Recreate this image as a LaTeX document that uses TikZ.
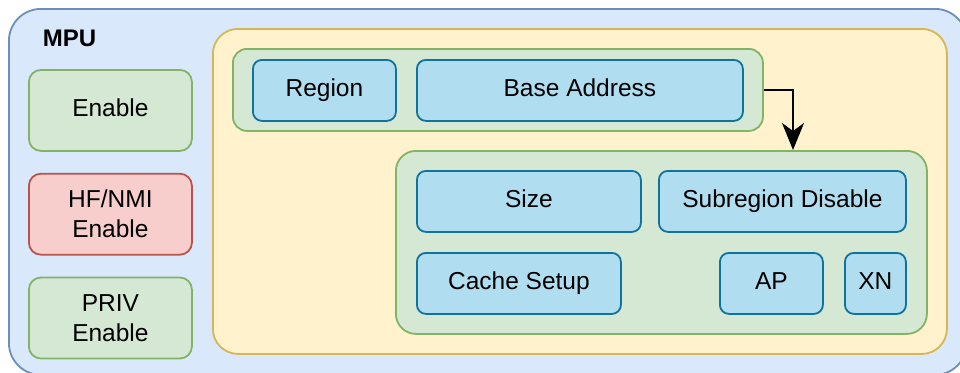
\documentclass[tikz,border=0pt]{standalone}
\usepackage{fontspec}
\setmainfont{Liberation Sans}
\usetikzlibrary{positioning,arrows.meta}
\definecolor{mpufill}{HTML}{DAE8FC}
\definecolor{mpuline}{HTML}{6C8EBF}
\definecolor{yelfill}{HTML}{FFF2CC}
\definecolor{yelline}{HTML}{D6B656}
\definecolor{grnfill}{HTML}{D5E8D4}
\definecolor{grnline}{HTML}{82B366}
\definecolor{redfill}{HTML}{F8CECC}
\definecolor{redline}{HTML}{B85450}
\definecolor{blufill}{HTML}{B1DDF0}
\definecolor{bluline}{HTML}{10739E}
\begin{document}
\begin{tikzpicture}[x=1pt, y=-1pt, line width=1.8pt, node distance=21pt,
    box/.style = {draw, rounded corners=9pt, align=center, inner sep=0pt, anchor=north west,
                  font=\fontsize{24.5}{30}\selectfont},
    ctl/.style = {box, fill=grnfill, draw=grnline, rounded corners=12pt,
                  minimum width=163pt, minimum height=81pt},
    grp/.style = {box, fill=grnfill, draw=grnline, rounded corners=14pt},
    fld/.style = {box, fill=blufill, draw=bluline, minimum height=61pt,
                  text height=17pt, text depth=5pt}]
    \useasboundingbox (0,0) rectangle (960,372);

    \node[box, fill=mpufill, draw=mpuline, rounded corners=32pt,
          minimum width=958pt, minimum height=366pt] (mpu) at (8,8) {};
    \node[font=\fontsize{24}{28}\selectfont\bfseries, anchor=west, inner sep=0pt] (mpulabel) at (42,38) {MPU};

    % control bits
    \node[ctl, text height=17pt, text depth=5pt] (enable) at (28,69) {Enable};
    \node[ctl, fill=redfill, draw=redline, below=of enable.south west, anchor=north west] (hfnmi) {HF/NMI\\Enable};
    \node[ctl, below=of hfnmi.south west, anchor=north west] (priv) {PRIV\\Enable};

    % region registers
    \node[box, fill=yelfill, draw=yelline, rounded corners=25pt,
          minimum width=734pt, minimum height=325pt] (regs) at (212,28) {};
    \node[grp, minimum width=530pt, minimum height=82pt] (rbar) at (232,48) {};
    \node[grp, rounded corners=20pt, minimum width=531pt, minimum height=183pt] (rasr) at (395,150) {};

    \node[fld, minimum width=143pt] (region) at (252,59) {Region};
    \node[fld, minimum width=326pt] (base) at (416,59) {Base Address};

    \node[fld, minimum width=224pt] (size) at (416,170) {Size};
    \node[fld, minimum width=247pt] (subreg) at (658,170) {Subregion Disable};
    \node[fld, minimum width=204pt] (cache) at (416,252) {Cache Setup};
    \node[fld, minimum width=103pt] (ap) at (719,252) {AP};
    \node[fld, minimum width=61pt] (xn) at (844,252) {XN};

    \draw[line width=2pt, -{Stealth[length=27pt,width=22pt,inset=8pt]}] (rbar.east) -| (rasr.north -| 793,0);
\end{tikzpicture}
\end{document}
